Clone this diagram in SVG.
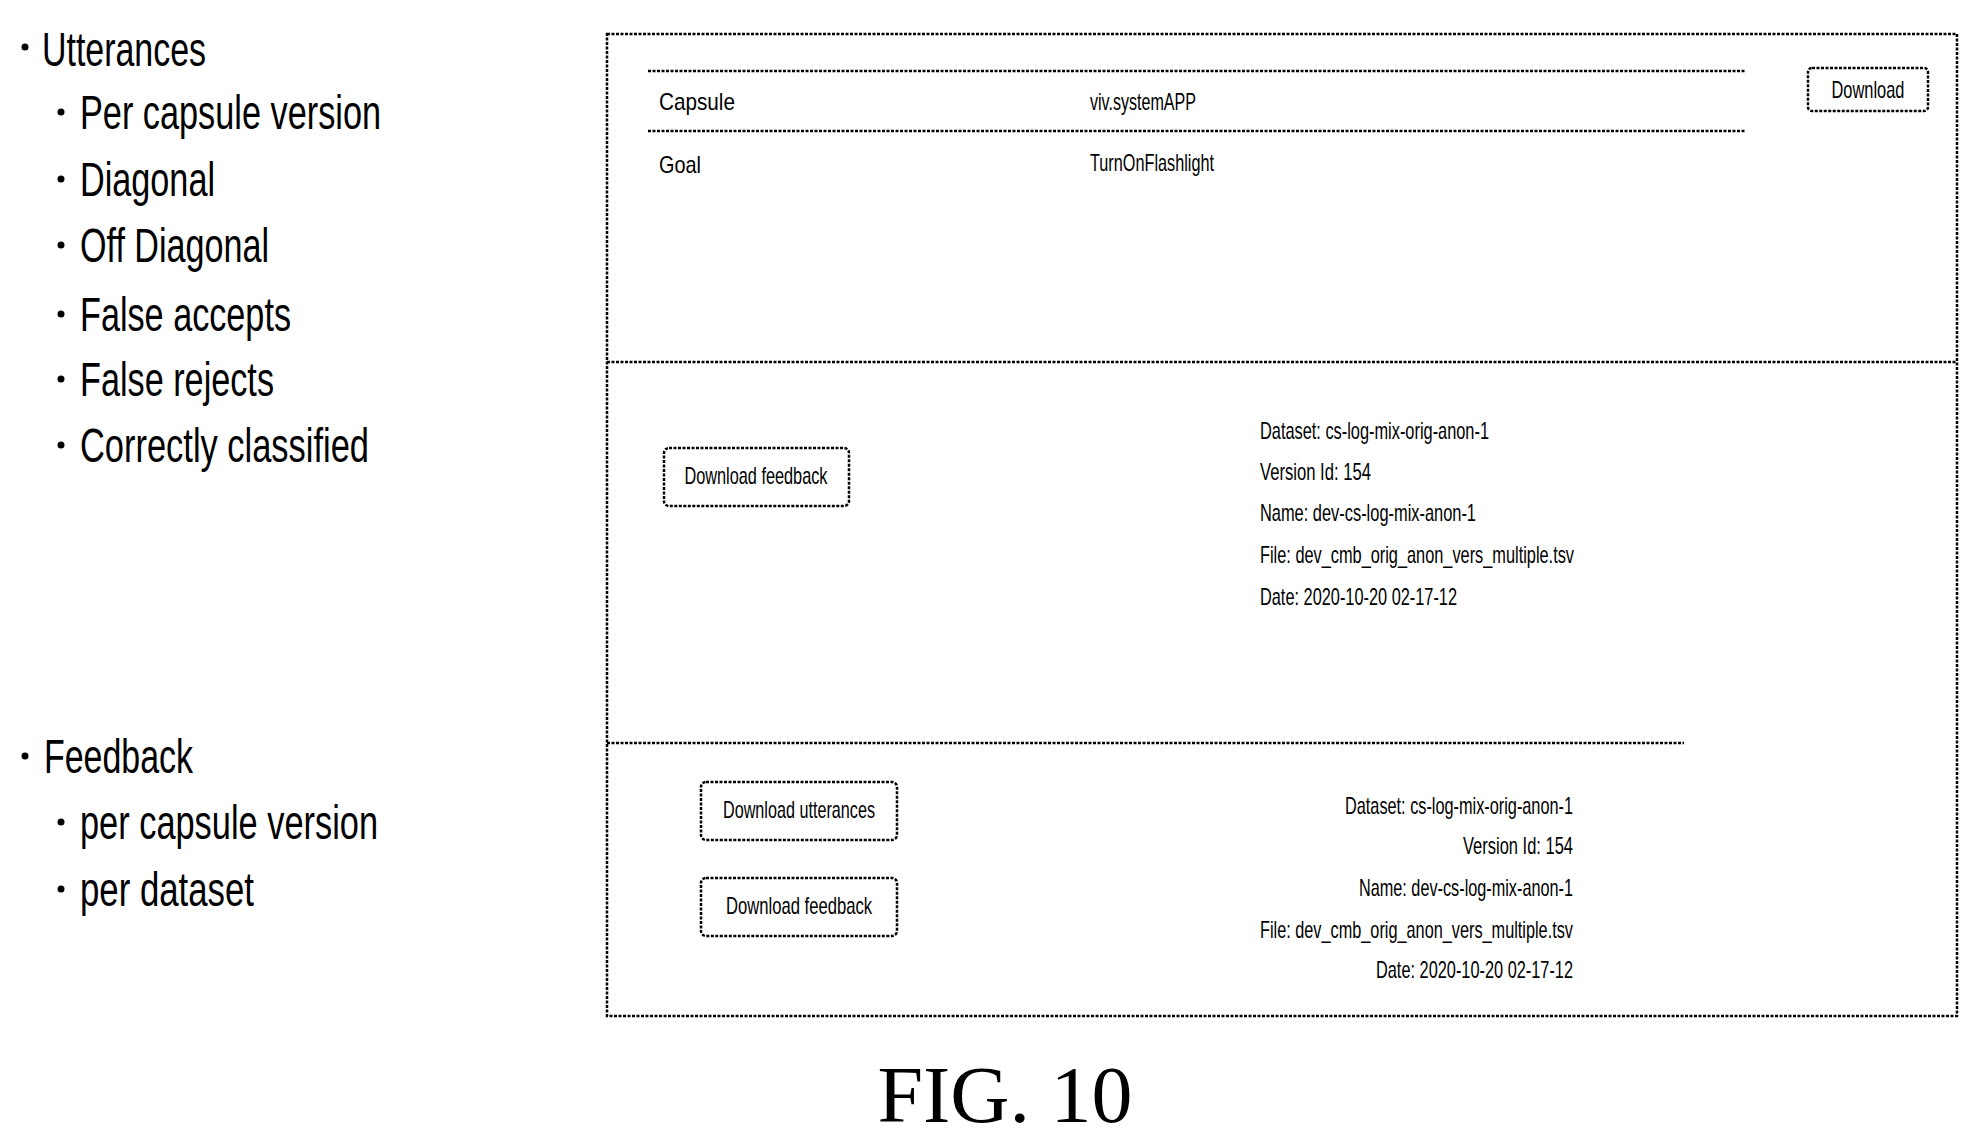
<svg xmlns="http://www.w3.org/2000/svg" width="1978" height="1146" viewBox="0 0 1978 1146">
<style>
.d{fill:none;stroke:#000;stroke-width:2.5;stroke-dasharray:3 1.5}
.b{font-family:"Liberation Sans",sans-serif;font-size:48px;fill:#000}
.s{font-family:"Liberation Sans",sans-serif;font-size:24px;fill:#000}
.m{text-anchor:middle}
.r{text-anchor:end}
</style>
<rect width="1978" height="1146" fill="#fff"/>
<g id="lists">
<g fill="#000"><circle cx="25" cy="47" r="3.5"/><circle cx="61" cy="112" r="3.5"/><circle cx="61" cy="179" r="3.5"/><circle cx="61" cy="245" r="3.5"/><circle cx="61" cy="314" r="3.5"/><circle cx="61" cy="379" r="3.5"/><circle cx="61" cy="445" r="3.5"/><circle cx="25" cy="756" r="3.5"/><circle cx="61" cy="822" r="3.5"/><circle cx="61" cy="889" r="3.5"/></g>
<text class="b" x="42" y="66" textLength="164" lengthAdjust="spacingAndGlyphs">Utterances</text>
<text class="b" x="80" y="129" textLength="301" lengthAdjust="spacingAndGlyphs">Per capsule version</text>
<text class="b" x="80" y="196" textLength="135" lengthAdjust="spacingAndGlyphs">Diagonal</text>
<text class="b" x="80" y="262" textLength="189" lengthAdjust="spacingAndGlyphs">Off Diagonal</text>
<text class="b" x="80" y="331" textLength="211" lengthAdjust="spacingAndGlyphs">False accepts</text>
<text class="b" x="80" y="396" textLength="194" lengthAdjust="spacingAndGlyphs">False rejects</text>
<text class="b" x="80" y="462" textLength="289" lengthAdjust="spacingAndGlyphs">Correctly classified</text>
<text class="b" x="44" y="773" textLength="149" lengthAdjust="spacingAndGlyphs">Feedback</text>
<text class="b" x="80" y="839" textLength="298" lengthAdjust="spacingAndGlyphs">per capsule version</text>
<text class="b" x="80" y="906" textLength="174" lengthAdjust="spacingAndGlyphs">per dataset</text>
</g>
<g id="panel">
<rect class="d" x="607" y="34" width="1350" height="982"/>
<line class="d" x1="607" y1="362" x2="1957" y2="362"/>
<line class="d" x1="607" y1="743" x2="1684" y2="743"/>
</g>
<g id="top">
<line class="d" x1="648" y1="71" x2="1745" y2="71"/>
<line class="d" x1="648" y1="131" x2="1745" y2="131"/>
<text class="s" x="659" y="110" textLength="76" lengthAdjust="spacingAndGlyphs">Capsule</text>
<text class="s" x="1090" y="110" textLength="106" lengthAdjust="spacingAndGlyphs">viv.systemAPP</text>
<text class="s" x="659" y="173" textLength="42" lengthAdjust="spacingAndGlyphs">Goal</text>
<text class="s" x="1090" y="171" textLength="124" lengthAdjust="spacingAndGlyphs">TurnOnFlashlight</text>
<g id="btn-download"><rect class="d" x="1808" y="68" width="120" height="43" rx="4"/>
<text class="s m" x="1868" y="98" textLength="73" lengthAdjust="spacingAndGlyphs">Download</text></g>
</g>
<g id="middle">
<g id="btn-feedback1"><rect class="d" x="664" y="448" width="185" height="58" rx="5"/>
<text class="s m" x="756" y="484" textLength="143" lengthAdjust="spacingAndGlyphs">Download feedback</text></g>
<text class="s" x="1260" y="439" textLength="229" lengthAdjust="spacingAndGlyphs">Dataset: cs-log-mix-orig-anon-1</text>
<text class="s" x="1260" y="480" textLength="111" lengthAdjust="spacingAndGlyphs">Version Id: 154</text>
<text class="s" x="1260" y="521" textLength="216" lengthAdjust="spacingAndGlyphs">Name: dev-cs-log-mix-anon-1</text>
<text class="s" x="1260" y="563" textLength="314" lengthAdjust="spacingAndGlyphs">File: dev_cmb_orig_anon_vers_multiple.tsv</text>
<text class="s" x="1260" y="605" textLength="197" lengthAdjust="spacingAndGlyphs">Date: 2020-10-20 02-17-12</text>
</g>
<g id="bottom">
<g id="btn-utterances"><rect class="d" x="701" y="782" width="196" height="58" rx="5"/>
<text class="s m" x="799" y="818" textLength="152" lengthAdjust="spacingAndGlyphs">Download utterances</text></g>
<g id="btn-feedback2"><rect class="d" x="701" y="878" width="196" height="58" rx="5"/>
<text class="s m" x="799" y="914" textLength="146" lengthAdjust="spacingAndGlyphs">Download feedback</text></g>
<text class="s r" x="1573" y="814" textLength="228" lengthAdjust="spacingAndGlyphs">Dataset: cs-log-mix-orig-anon-1</text>
<text class="s r" x="1573" y="854" textLength="110" lengthAdjust="spacingAndGlyphs">Version Id: 154</text>
<text class="s r" x="1573" y="896" textLength="214" lengthAdjust="spacingAndGlyphs">Name: dev-cs-log-mix-anon-1</text>
<text class="s r" x="1573" y="938" textLength="313" lengthAdjust="spacingAndGlyphs">File: dev_cmb_orig_anon_vers_multiple.tsv</text>
<text class="s r" x="1573" y="978" textLength="197" lengthAdjust="spacingAndGlyphs">Date: 2020-10-20 02-17-12</text>
</g>
<text x="1005" y="1122" text-anchor="middle" font-family="Liberation Serif,serif" font-size="80" textLength="255" lengthAdjust="spacingAndGlyphs">FIG. 10</text>
</svg>
